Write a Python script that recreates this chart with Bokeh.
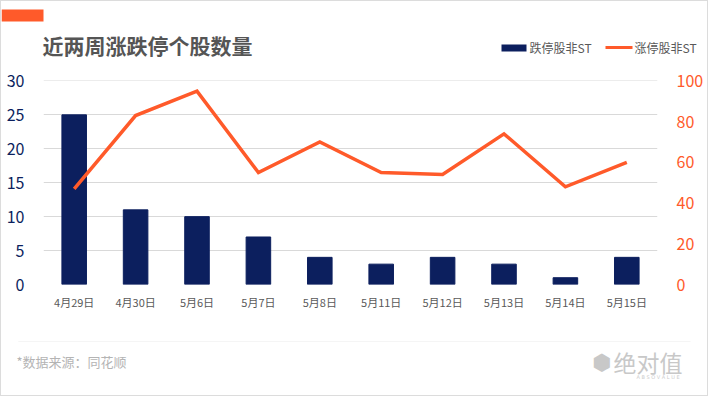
from bokeh.plotting import figure
from bokeh.layouts import column
from bokeh.models import (FactorRange, Range1d, LinearAxis, Label, BoxAnnotation,
                          FixedTicker, ColumnDataSource)
from bokeh.embed import file_html
from bokeh.resources import INLINE

# ---- data ----
dates = ["4月29日", "4月30日", "5月6日", "5月7日", "5月8日",
         "5月11日", "5月12日", "5月13日", "5月14日", "5月15日"]
limit_down = [25, 11, 10, 7, 4, 3, 4, 3, 1, 4]          # 跌停股非ST (left axis)
limit_up = [47, 83, 95, 55, 70, 55, 54, 74, 48, 60]     # 涨停股非ST (right axis)
left_ticks = [0, 5, 10, 15, 20, 25, 30]
right_ticks = [0, 20, 40, 60, 80, 100]
title_text = "近两周涨跌停个股数量"
legend_down = "跌停股非ST"
legend_up = "涨停股非ST"
source_text = "*数据来源：同花顺"

NAVY = "#0c1f5e"
ORANGE = "#ff5a2a"
FONT = "Noto Sans CJK SC"
OFFX = 1          # 1px outer border
TW = 706
HH, FH = 59, 67   # header / footer heights


def deco_fig(h):
    f = figure(width=TW, height=h, x_range=Range1d(0, TW), y_range=Range1d(h, 0),
               x_axis_type=None, y_axis_type=None, output_backend="svg",
               toolbar_location=None, min_border=0)
    f.outline_line_color = None
    f.grid.grid_line_color = None
    f.frame_align = False
    return f


# ---- header (local y = ref y - 1) ----
hdr = deco_fig(HH)
hdr.add_layout(BoxAnnotation(left=0, right=43 - OFFX, top=8, bottom=20,
                             fill_color=ORANGE, fill_alpha=1, line_alpha=0))
hdr.add_layout(Label(x=42 - OFFX, y=43.5, text=title_text, text_font=FONT,
                     text_font_size="21px", text_font_style="bold",
                     text_color="#555555", text_baseline="middle"))
hdr.add_layout(BoxAnnotation(left=501 - OFFX, right=526 - OFFX, top=43, bottom=50,
                             fill_color=NAVY, fill_alpha=1, line_alpha=0))
hdr.add_layout(Label(x=529 - OFFX, y=46, text=legend_down, text_font=FONT,
                     text_font_size="12px", text_color="#595959", text_baseline="middle"))
hdr.add_layout(BoxAnnotation(left=605 - OFFX, right=632 - OFFX, top=44.5, bottom=47.5,
                             fill_color=ORANGE, fill_alpha=1, line_alpha=0))
hdr.add_layout(Label(x=634 - OFFX, y=46, text=legend_up, text_font=FONT,
                     text_font_size="12px", text_color="#595959", text_baseline="middle"))

# ---- main chart ----
src = ColumnDataSource(dict(d=dates, down=limit_down, up=limit_up))
EPS = 1.002
p = figure(frame_width=614, frame_height=204,
           x_range=FactorRange(*dates, range_padding=0),
           y_range=Range1d(0, 30 * EPS), output_backend="svg", toolbar_location=None,
           min_border_left=43 - OFFX, min_border_right=TW - (657 - OFFX),
           min_border_top=20, min_border_bottom=44)
p.frame_align = False
p.extra_y_ranges = {"right": Range1d(0, 100 * EPS)}
p.outline_line_color = None

p.vbar(x="d", top="down", width=0.4, source=src, color=NAVY)
p.line(x="d", y="up", source=src, color=ORANGE, line_width=3.5,
       y_range_name="right", line_join="miter")

p.xgrid.grid_line_color = None
p.ygrid.grid_line_color = "#d9d9d9"
p.yaxis.ticker = FixedTicker(ticks=left_ticks)

for ax in [p.xaxis[0], p.yaxis[0]]:
    ax.axis_line_color = None
    ax.major_tick_line_color = None
    ax.minor_tick_line_color = None

p.yaxis.major_label_text_color = NAVY
p.yaxis.major_label_text_font = FONT
p.yaxis.major_label_text_font_size = "16px"
p.yaxis.major_label_standoff = 13

p.xaxis.major_label_text_color = "#595959"
p.xaxis.major_label_text_font = FONT
p.xaxis.major_label_text_font_size = "11px"
p.xaxis.major_label_standoff = 3

ra = LinearAxis(y_range_name="right", ticker=FixedTicker(ticks=right_ticks))
ra.axis_line_color = None
ra.major_tick_line_color = None
ra.minor_tick_line_color = None
ra.major_label_text_color = ORANGE
ra.major_label_text_font = FONT
ra.major_label_text_font_size = "16px"
ra.major_label_standoff = 13
p.add_layout(ra, "right")

# ---- footer (local y = ref y - 328) ----
ftr = deco_fig(FH)
ftr.add_layout(BoxAnnotation(left=18 - OFFX, right=690 - OFFX, top=13, bottom=13.01,
                             fill_alpha=0, line_color="#dddddd", line_width=1,
                             line_dash="3 3"))
ftr.add_layout(Label(x=16 - OFFX, y=33, text=source_text, text_font=FONT,
                     text_font_size="13px", text_color="#b4b4b4", text_baseline="middle"))
ftr.add_layout(Label(x=601 - OFFX, y=34, text="⬢", text_font="DejaVu Sans",
                     text_font_size="22px", text_color="#c8c8c8",
                     text_baseline="middle", text_align="center"))
ftr.add_layout(Label(x=613 - OFFX, y=33, text="绝对值", text_font=FONT,
                     text_font_size="23px", text_color="#c8c8c8", text_baseline="middle"))
ftr.add_layout(Label(x=636 - OFFX, y=48, text="A B S O V A L U E", text_font="DejaVu Sans",
                     text_font_size="5px", text_color="#cccccc", text_baseline="middle"))

layout = column(hdr, p, ftr, spacing=0,
                styles={"border": "1px solid #dcdcdc", "background-color": "white"})
open("out.html", "w").write(file_html(layout, INLINE))
